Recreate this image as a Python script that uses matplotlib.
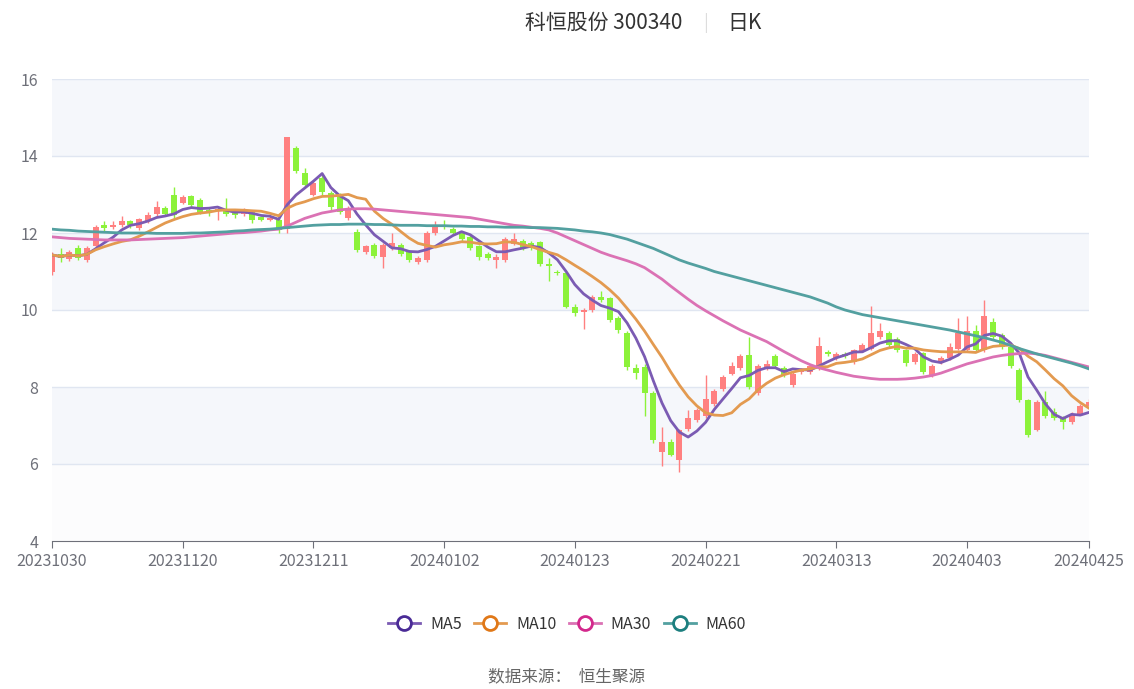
import numpy as np
import pandas as pd
import matplotlib as mpl
mpl.use('Agg')
import matplotlib.pyplot as plt

plt.rcParams['font.family'] = ['Noto Sans CJK SC', 'DejaVu Sans']

# daily OHLC, 20231030 .. 20240425 (120 trading days)
opens = [11.0,11.45,11.32,11.6,11.3,11.66,12.2,12.15,12.2,12.3,
         12.13,12.3,12.5,12.65,13.0,12.78,12.95,12.85,12.6,12.6,
         12.6,12.58,12.5,12.55,12.42,12.33,12.35,12.1,14.22,13.55,
         12.98,13.43,13.04,13.0,12.38,12.03,11.5,11.7,11.37,11.6,
         11.7,11.5,11.25,11.3,12.0,12.2,12.1,12.0,11.9,11.65,
         11.45,11.3,11.3,11.72,11.8,11.75,11.77,11.2,11.0,10.95,
         10.08,9.96,10.0,10.35,10.3,9.8,9.4,8.5,8.52,7.84,
         6.3,6.57,6.1,6.9,7.15,7.25,7.55,7.95,8.35,8.5,
         8.83,7.85,8.5,8.8,8.5,8.05,8.4,8.4,8.5,8.9,
         8.75,8.85,8.65,8.92,9.0,9.3,9.4,9.25,8.95,8.65,
         8.88,8.3,8.65,8.75,9.0,8.95,9.45,8.95,9.7,9.35,
         9.05,8.45,7.65,6.88,7.6,7.35,7.2,7.1,7.3,7.5]
closes = [11.43,11.35,11.5,11.35,11.6,12.15,12.13,12.22,12.3,12.2,
          12.36,12.47,12.68,12.5,12.47,12.93,12.72,12.55,12.55,12.62,
          12.5,12.48,12.6,12.35,12.35,12.4,12.08,14.5,13.6,13.25,
          13.3,13.07,12.68,12.55,12.6,11.56,11.66,11.4,11.7,11.75,
          11.45,11.3,11.35,12.0,12.17,12.15,12.0,11.85,11.6,11.38,
          11.35,11.38,11.85,11.85,11.6,11.62,11.2,11.15,10.95,10.08,
          9.92,10.0,10.33,10.25,9.74,9.47,8.52,8.37,7.84,6.62,
          6.57,6.23,6.88,7.2,7.4,7.7,7.9,8.25,8.55,8.8,
          8.0,8.55,8.6,8.55,8.3,8.35,8.45,8.55,9.07,8.85,
          8.87,8.8,8.95,9.1,9.4,9.45,9.1,8.95,8.62,8.85,
          8.4,8.55,8.75,9.05,9.4,9.45,8.95,9.85,9.3,9.05,
          8.55,7.65,6.75,7.6,7.25,7.2,7.1,7.3,7.5,7.6]
highs = [11.5,11.6,11.55,11.7,11.65,12.2,12.3,12.3,12.45,12.35,
         12.4,12.55,12.83,12.7,13.2,13.0,13.0,12.9,12.65,12.7,
         12.9,12.62,12.65,12.6,12.45,12.45,12.4,14.5,14.25,13.7,
         13.35,13.5,13.1,13.05,12.7,12.1,11.7,11.75,11.75,12.0,
         11.75,11.55,11.4,12.05,12.3,12.35,12.15,12.05,11.95,11.7,
         11.5,11.45,11.9,12.0,11.85,11.8,11.8,11.35,11.05,10.95,
         10.15,10.05,10.4,10.5,10.35,9.85,9.45,8.6,8.6,7.9,
         6.95,6.65,6.9,7.4,7.45,8.3,7.95,8.3,8.65,8.85,
         9.3,8.6,8.7,8.85,8.55,8.4,8.5,8.6,9.3,8.95,
         8.9,8.9,9.0,9.15,10.1,9.65,9.45,9.3,8.98,8.9,
         8.9,8.6,8.8,9.15,9.8,9.85,9.6,10.25,9.8,9.4,
         9.1,8.5,7.7,7.65,7.9,7.45,7.25,7.35,7.55,7.7]
lows = [10.9,11.25,11.28,11.3,11.25,11.6,12.05,12.1,12.15,12.12,
        12.08,12.25,12.45,12.45,12.4,12.75,12.68,12.5,12.45,12.35,
        12.45,12.4,12.45,12.25,12.3,12.3,12.0,12.0,13.55,13.2,
        12.95,13.0,12.6,12.5,12.35,11.5,11.45,11.35,11.1,11.55,
        11.4,11.25,11.2,11.25,11.95,12.1,11.95,11.8,11.55,11.3,
        11.3,11.1,11.25,11.7,11.55,11.55,11.15,10.75,10.9,10.05,
        9.85,9.5,9.95,10.2,9.7,9.4,8.45,8.2,7.25,6.55,
        5.95,6.2,5.8,6.85,7.1,7.2,7.5,7.9,8.3,8.45,
        7.95,7.8,8.45,8.5,8.25,8.0,8.35,8.35,8.45,8.8,
        8.7,8.75,8.6,8.9,8.95,9.25,9.05,8.9,8.55,8.6,
        8.35,8.25,8.6,8.7,8.95,8.9,8.9,8.9,9.25,9.0,
        8.5,7.6,6.7,6.85,7.2,7.15,6.9,7.05,7.3,7.45]

ma30 = [11.9,11.88,11.86,11.85,11.84,11.83,11.82,11.82,11.82,11.82,
        11.83,11.84,11.85,11.86,11.87,11.88,11.9,11.92,11.94,11.96,
        11.98,12.0,12.01,12.03,12.05,12.08,12.1,12.18,12.28,12.38,
        12.45,12.52,12.56,12.6,12.62,12.63,12.63,12.62,12.6,12.58,
        12.56,12.54,12.52,12.5,12.48,12.46,12.44,12.42,12.4,12.36,
        12.32,12.28,12.24,12.2,12.18,12.15,12.12,12.08,12.0,11.9,
        11.8,11.7,11.6,11.5,11.42,11.35,11.28,11.2,11.1,10.95,
        10.8,10.62,10.45,10.28,10.12,9.98,9.85,9.72,9.6,9.48,
        9.38,9.28,9.18,9.05,8.92,8.8,8.68,8.58,8.5,8.44,
        8.38,8.33,8.28,8.25,8.22,8.2,8.2,8.2,8.21,8.23,
        8.26,8.3,8.36,8.44,8.52,8.6,8.66,8.72,8.78,8.82,
        8.85,8.87,8.88,8.86,8.82,8.76,8.7,8.64,8.58,8.52]
ma60 = [12.1,12.08,12.07,12.05,12.04,12.03,12.02,12.01,12.0,12.0,
        12.0,12.0,11.99,11.99,11.99,11.99,12.0,12.0,12.01,12.02,
        12.03,12.05,12.06,12.08,12.09,12.1,12.12,12.14,12.16,12.18,
        12.2,12.21,12.22,12.22,12.23,12.23,12.23,12.22,12.22,12.21,
        12.2,12.2,12.2,12.19,12.19,12.19,12.18,12.18,12.17,12.17,
        12.16,12.16,12.15,12.15,12.15,12.14,12.14,12.13,12.12,12.1,
        12.08,12.05,12.03,12.0,11.96,11.9,11.84,11.76,11.68,11.6,
        11.5,11.4,11.3,11.22,11.15,11.08,11.0,10.94,10.88,10.82,
        10.76,10.7,10.64,10.58,10.52,10.46,10.4,10.34,10.26,10.18,
        10.08,10.0,9.94,9.88,9.84,9.8,9.76,9.72,9.68,9.64,
        9.6,9.56,9.52,9.48,9.43,9.38,9.33,9.28,9.22,9.16,
        9.08,9.0,8.93,8.86,8.8,8.74,8.68,8.62,8.55,8.47]

tick_idx = [0,15,30,45,60,75,90,105,119]
tick_labels = ['20231030','20231120','20231211','20240102','20240123',
               '20240221','20240313','20240403','20240425']

n = len(closes)
x = np.arange(n)
cl = pd.Series(closes)
ma5 = cl.rolling(5, min_periods=1).mean()
ma10 = cl.rolling(10, min_periods=1).mean()

fig = plt.figure(figsize=(11.34,6.89), dpi=100)
ax = fig.add_axes([52/1134, 148/689, 1037/1134, 462/689])

# alternating bands
band_cols = ['#fcfcfd','#f5f7fb','#ffffff','#f5f7fb','#ffffff','#f5f7fb']
for k, y0 in enumerate(range(4,16,2)):
    ax.axhspan(y0, y0+2, color=band_cols[k], zorder=0, lw=0)
for y0 in range(6,18,2):
    ax.axhline(y0, color='#e0e6f1', lw=1, zorder=1)

up_c, dn_c = '#ff8080', '#8cf23a'
w = 0.7
for i in range(n):
    o, c, h, l = opens[i], closes[i], highs[i], lows[i]
    col = up_c if c >= o else dn_c
    ax.vlines(x[i], l, h, color=col, lw=1, zorder=2)
    ax.bar(x[i], max(abs(c-o),0.03), bottom=min(o,c), width=w, color=col, zorder=2, lw=0)

ma_cols = ['#7b5bb3','#e39a50','#db72b4','#53a0a0']
edge_cols = ['#4a2b96','#e07818','#d3288c','#1d7f7f']
names = ['MA5','MA10','MA30','MA60']
for vals, col, nm in zip([ma5, ma10, ma30, ma60], ma_cols, names):
    ax.plot(x, vals, color=col, lw=2, zorder=3)

ax.set_xlim(0, n-1)
ax.set_ylim(4, 16)
ax.set_yticks(range(4,17,2))
ax.set_xticks(tick_idx)
ax.set_xticklabels(tick_labels)
ax.tick_params(axis='y', length=0, colors='#6e7079', labelsize=11.5, pad=10)
ax.tick_params(axis='x', length=5, color='#6e7079', colors='#6e7079', labelsize=11.5)
for s in ['top','right','left']:
    ax.spines[s].set_visible(False)
ax.spines['bottom'].set_color('#6e7079')

fig.text(0.602, 0.967, '科恒股份 300340', ha='right', va='center', fontsize=15, color='#333333')
fig.text(0.622, 0.967, '|', ha='center', va='center', fontsize=13, color='#dddddd')
fig.text(0.641, 0.967, '日K', ha='left', va='center', fontsize=15, color='#333333')

handles = [mpl.lines.Line2D([], [], color=c, lw=2, marker='o', markersize=10,
                            markerfacecolor='white', markeredgecolor=e, markeredgewidth=2)
           for c, e in zip(ma_cols, edge_cols)]
fig.legend(handles, names, loc='center', bbox_to_anchor=(0.5, 0.094), ncol=4,
           frameon=False, fontsize=11.5, handlelength=2.0, columnspacing=0.8,
           handletextpad=0.6, labelcolor='#333333')
fig.text(0.5, 0.018, '数据来源：  恒生聚源', ha='center', va='center', fontsize=12, color='#666666')

fig.savefig('out.png', dpi=100)
